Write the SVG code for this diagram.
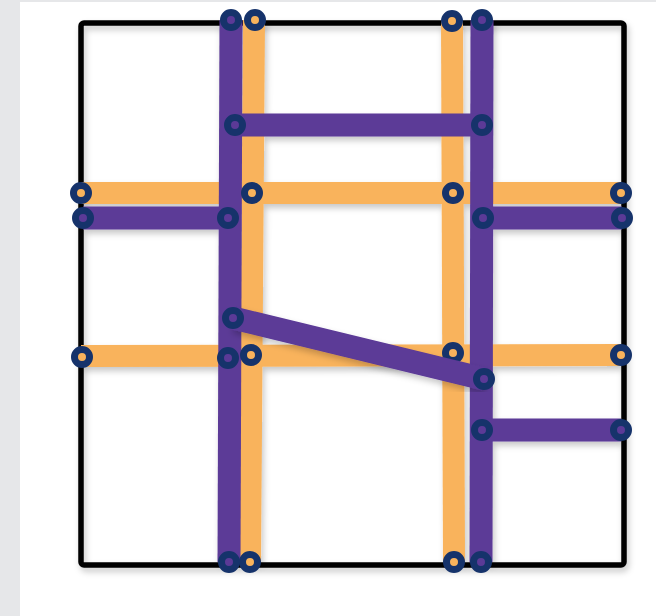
<svg xmlns="http://www.w3.org/2000/svg" width="656" height="616" viewBox="0 0 656 616">
<defs>
<filter id="sh" x="-20%" y="-20%" width="140%" height="140%">
<feDropShadow dx="2" dy="4" stdDeviation="3" flood-color="#000" flood-opacity="0.22"/>
</filter>
<style>
.o{stroke:#F9B35C;stroke-width:22;fill:none}
.p{stroke:#5B3A97;stroke-width:23;fill:none}
.co{fill:#F9B35C;stroke:#16336B;stroke-width:7}
.cp{fill:#5B3A97;stroke:#16336B;stroke-width:7}
</style>
</defs>
<rect x="0" y="0" width="656" height="616" fill="#E6E7E9"/>
<rect x="20" y="2" width="636" height="614" fill="#FFFFFF"/>
<g id="frame">
<rect x="81" y="23" width="543" height="542" rx="3" fill="none" stroke="#000" stroke-width="5.5" filter="url(#sh)"/>
</g>
<g id="connectors" filter="url(#sh)">
<line class="o" x1="254" y1="20" x2="250" y2="562"/>
<line class="o" x1="452" y1="21" x2="454" y2="562"/>
<line class="o" x1="81" y1="193" x2="621" y2="193"/>
<line class="o" x1="81" y1="356" x2="621" y2="355"/>
<line class="p" x1="231" y1="20" x2="229" y2="562"/>
<line class="p" x1="482" y1="20" x2="481" y2="562"/>
<line class="p" x1="234" y1="125" x2="482" y2="125"/>
<line class="p" x1="83" y1="218" x2="228" y2="218"/>
<line class="p" x1="483" y1="218" x2="622" y2="218"/>
<line class="p" x1="482" y1="430" x2="621" y2="430"/>
</g>
<g id="nodes-orange">
<circle id="o1" class="co" cx="255" cy="20" r="7.5"/>
<circle id="o2" class="co" cx="452" cy="21" r="7.5"/>
<circle id="o3" class="co" cx="81" cy="193" r="7.5"/>
<circle id="o4" class="co" cx="252" cy="193" r="7.5"/>
<circle id="o5" class="co" cx="453" cy="193" r="7.5"/>
<circle id="o6" class="co" cx="621" cy="193" r="7.5"/>
<circle id="o7" class="co" cx="82" cy="357" r="7.5"/>
<circle id="o8" class="co" cx="251" cy="355" r="7.5"/>
<circle id="o9" class="co" cx="453" cy="353" r="7.5"/>
<circle id="o10" class="co" cx="621" cy="355" r="7.5"/>
<circle id="o11" class="co" cx="250" cy="562" r="7.5"/>
<circle id="o12" class="co" cx="454" cy="562" r="7.5"/>
</g>
<g id="nodes-purple">
<circle id="p1" class="cp" cx="231" cy="20" r="7.5"/>
<circle id="p2" class="cp" cx="482" cy="20" r="7.5"/>
<circle id="p3" class="cp" cx="235" cy="125" r="7.5"/>
<circle id="p4" class="cp" cx="482" cy="125" r="7.5"/>
<circle id="p5" class="cp" cx="83" cy="218" r="7.5"/>
<circle id="p6" class="cp" cx="228" cy="218" r="7.5"/>
<circle id="p7" class="cp" cx="483" cy="218" r="7.5"/>
<circle id="p8" class="cp" cx="622" cy="218" r="7.5"/>
<circle id="p9" class="cp" cx="228" cy="358" r="7.5"/>
<circle id="p10" class="cp" cx="482" cy="430" r="7.5"/>
<circle id="p11" class="cp" cx="621" cy="430" r="7.5"/>
<circle id="p12" class="cp" cx="229" cy="562" r="7.5"/>
<circle id="p13" class="cp" cx="481" cy="562" r="7.5"/>
</g>
<g id="connector-diagonal" filter="url(#sh)">
<line class="p" x1="233" y1="318" x2="484" y2="379"/>
</g>
<g id="nodes-diagonal">
<circle id="p14" class="cp" cx="233" cy="318" r="7.5"/>
<circle id="p15" class="cp" cx="484" cy="379" r="7.5"/>
</g>
</svg>
